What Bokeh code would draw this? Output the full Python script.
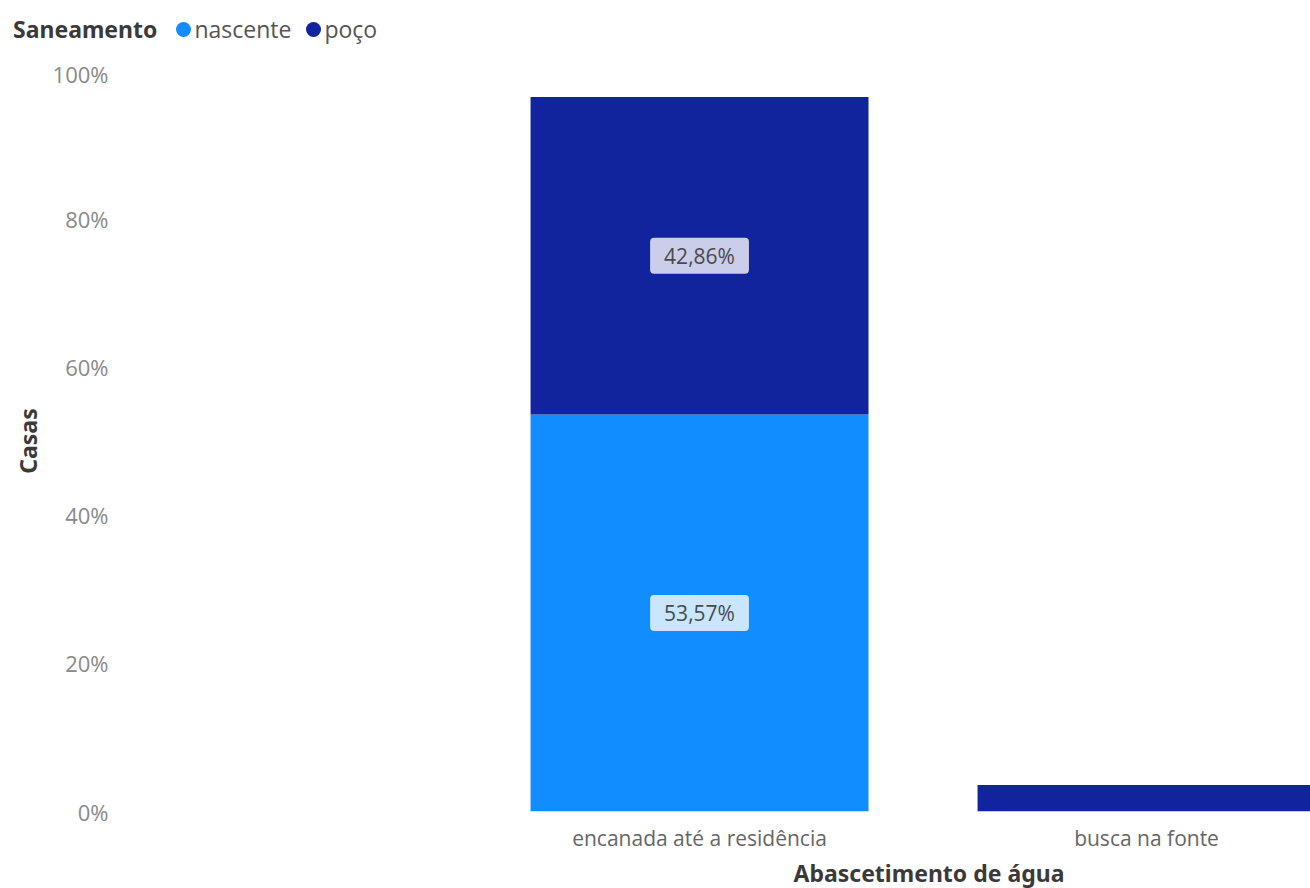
from bokeh.plotting import figure
from bokeh.layouts import column
from bokeh.models import (ColumnDataSource, FixedTicker, Title, Div)
from bokeh.core.properties import value
from bokeh.embed import file_html
from bokeh.resources import INLINE

# ---- data ----
categories = ["encanada até a residência", "busca na fonte"]
series = ["nascente", "poço"]
nascente = [53.57, 0.0]
poco = [42.86, 3.57]
colors = ["#118DFF", "#12239E"]
y_ticks = [0, 20, 40, 60, 80, 100]
legend_title = "Saneamento"

xs = list(range(len(categories)))

HEADER_H = 58

# ---- legend header (real text) ----
items_html = ""
for name, col in zip(series, colors):
    items_html += (
        f'<span style="display:inline-block;width:15px;height:15px;border-radius:50%;'
        f'background:{col};margin-right:3px;"></span>'
        f'<span style="color:#555555;font-family:\'Open Sans\';font-size:23px;margin-right:15px;">{name}</span>'
    )
header_html = (
    f'<div style="display:flex;align-items:center;height:{HEADER_H}px;padding-left:13px;">'
    f'<span style="font-family:\'Noto Sans\';font-weight:bold;font-size:23px;color:#3a3a3a;'
    f'margin-right:19px;">{legend_title}</span>{items_html}</div>'
)
header = Div(text=header_html, width=1310, height=HEADER_H, margin=0)

p = figure(width=1310, height=888 - HEADER_H, output_backend="svg", toolbar_location=None,
           x_range=(-1.2506, 1.3668), y_range=(0, 100), margin=0,
           min_border_left=140, min_border_right=0, min_border_top=72 - HEADER_H - 2,
           min_border_bottom=76)
p.outline_line_color = None
p.grid.visible = False
p.background_fill_color = "white"
p.border_fill_color = "white"

src = ColumnDataSource(dict(x=xs, top1=nascente, bottom2=nascente,
                            top2=[a + b for a, b in zip(nascente, poco)]))
bw = 0.756
p.vbar(x="x", bottom=0, top="top1", width=bw, source=src, fill_color=colors[0], line_color=None)
p.vbar(x="x", bottom="bottom2", top="top2", width=bw, source=src, fill_color=colors[1], line_color=None)

# data labels (only for segments big enough)
lab_x, lab_y, lab_t = [], [], []
for i in xs:
    if nascente[i] >= 10:
        lab_x.append(i); lab_y.append(nascente[i] / 2)
        lab_t.append(f"{nascente[i]:.2f}".replace(".", ",") + "%")
    if poco[i] >= 10:
        lab_x.append(i); lab_y.append(nascente[i] + poco[i] / 2)
        lab_t.append(f"{poco[i]:.2f}".replace(".", ",") + "%")
p.text(x=lab_x, y=lab_y, text=lab_t, text_align="center", text_baseline="middle",
       text_font=value("Open Sans"), text_font_size="21px", text_color="#4a4a4a",
       background_fill_color="white", background_fill_alpha=0.78,
       border_radius=4, padding=(14, 4))

# axes
yax = p.yaxis[0]
yax.ticker = FixedTicker(ticks=y_ticks)
yax.major_label_overrides = {t: f"{t}%" for t in y_ticks}
yax.axis_line_color = None
yax.major_tick_line_color = None
yax.minor_tick_line_color = None
yax.major_label_standoff = 26
yax.major_label_text_font = "Open Sans"
yax.major_label_text_font_size = "22px"
yax.major_label_text_color = "#8a8a8a"
yax.axis_label = "Casas"
yax.axis_label_text_font = "Noto Sans"
yax.axis_label_text_font_style = "bold"
yax.axis_label_text_font_size = "23px"
yax.axis_label_text_color = "#3b3a39"
yax.axis_label_standoff = 6

xax = p.xaxis[0]
xax.ticker = FixedTicker(ticks=xs)
xax.major_label_overrides = {i: c for i, c in zip(xs, categories)}
xax.axis_line_color = None
xax.major_tick_line_color = None
xax.minor_tick_line_color = None
xax.major_label_standoff = 6
xax.major_label_text_font = "Open Sans"
xax.major_label_text_font_size = "21px"
xax.major_label_text_color = "#666666"

# x axis title, offset to where the reference shows it
p.add_layout(Title(text="Abascetimento de água", align="left", offset=653, standoff=0,
                   text_font="Noto Sans", text_font_size="23px", text_font_style="bold",
                   text_color="#3b3a39"), "below")

layout = column(header, p, spacing=0, margin=0)
open("out.html", "w").write(file_html(layout, INLINE))
